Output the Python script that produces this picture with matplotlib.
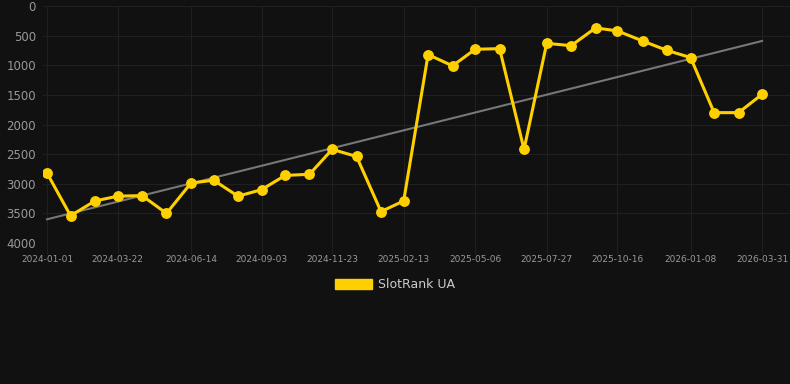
import numpy as np
import pandas as pd
import matplotlib
matplotlib.use("Agg")
import matplotlib.pyplot as plt
import matplotlib.dates as mdates
from matplotlib.patches import Patch

dates = ["2024-01-01", "2024-01-28", "2024-02-25", "2024-03-22", "2024-04-19",
         "2024-05-17", "2024-06-14", "2024-07-10", "2024-08-07", "2024-09-03",
         "2024-09-30", "2024-10-28", "2024-11-23", "2024-12-21", "2025-01-18",
         "2025-02-13", "2025-03-13", "2025-04-10", "2025-05-06", "2025-06-03",
         "2025-07-01", "2025-07-27", "2025-08-24", "2025-09-21", "2025-10-16",
         "2025-11-14", "2025-12-12", "2026-01-08", "2026-02-04", "2026-03-04",
         "2026-03-31"]
ranks = [2820, 3540, 3290, 3210, 3200, 3500, 2990, 2940, 3210, 3100,
         2860, 2840, 2420, 2540, 3470, 3290, 820, 1010, 730, 720,
         2420, 630, 670, 370, 420, 590, 750, 870, 1800, 1800, 1490]
tick_labels = ["2024-01-01", "2024-03-22", "2024-06-14", "2024-09-03", "2024-11-23",
               "2025-02-13", "2025-05-06", "2025-07-27", "2025-10-16", "2026-01-08",
               "2026-03-31"]
trend_dates = ["2024-01-01", "2026-03-31"]
trend_vals = [3600, 590]

bg = "#111111"
gold = "#ffd000"

x = pd.to_datetime(dates)
fig = plt.figure(figsize=(7.9, 3.84), dpi=100, facecolor=bg)
ax = fig.add_axes([43 / 790, 1 - 243 / 384, 747 / 790, 237 / 384])
ax.set_facecolor(bg)

ax.plot(pd.to_datetime(trend_dates), trend_vals, color="#777777", lw=1.5, zorder=2)
ax.plot(x, ranks, color=gold, lw=2.2, marker="o", ms=6.8, zorder=3)

ax.set_ylim(4000, 0)
ax.set_yticks(np.arange(0, 4001, 500))
x0 = pd.Timestamp("2024-01-01")
ax.set_xlim(x0 - pd.Timedelta(days=4.6), x0 + pd.Timedelta(days=852))
ax.set_xticks(pd.to_datetime(tick_labels))
ax.set_xticklabels(tick_labels)

ax.grid(True, color="#202020", lw=0.8)
ax.set_axisbelow(True)
for s in ax.spines.values():
    s.set_visible(False)
ax.tick_params(axis="y", colors="#999999", labelsize=8.5, length=0, pad=5)
ax.tick_params(axis="x", colors="#999999", labelsize=6.5, length=8, color="#202020", pad=1)

handle = Patch(facecolor=gold, edgecolor=gold)
fig.legend([handle], ["SlotRank UA"], loc="center", bbox_to_anchor=(0.5, 1 - 285 / 384),
           frameon=False, labelcolor="#cccccc", fontsize=9, handlelength=2.9,
           handleheight=0.9, handletextpad=0.5)

fig.savefig("out.png", dpi=100, facecolor=bg)
